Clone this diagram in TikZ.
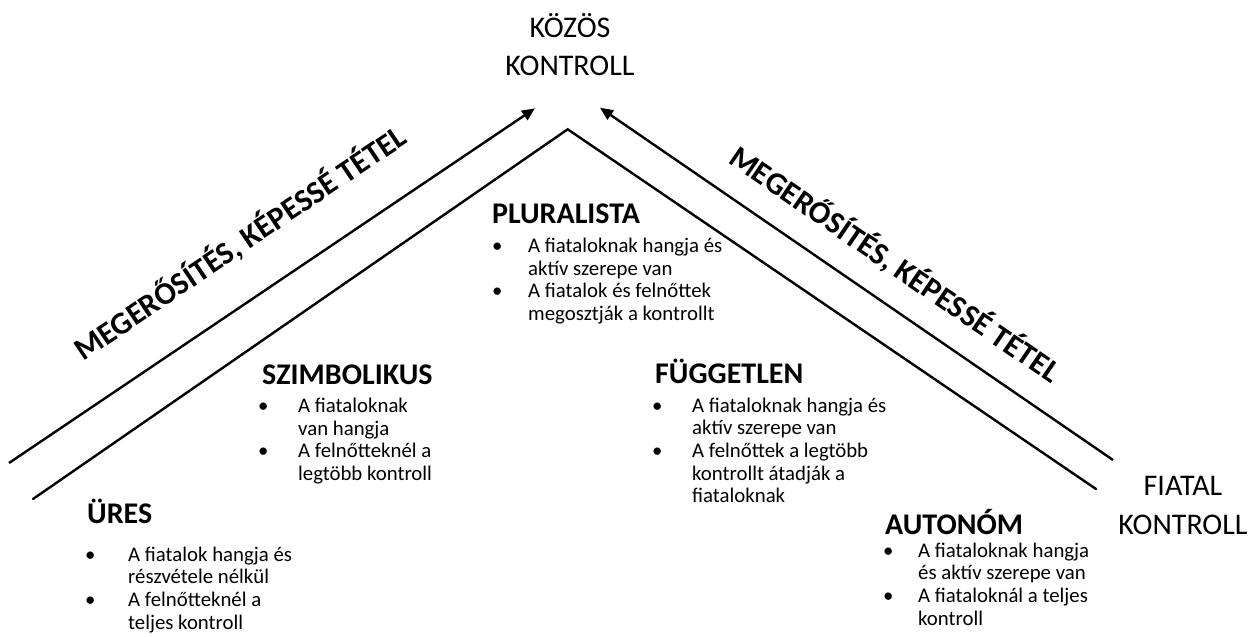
\documentclass[tikz,border=0pt]{standalone}
\usepackage{fontspec}
\setmainfont{Carlito}
\usetikzlibrary{arrows.meta}

% indent of the text after a bullet
\newlength\bw
\newcommand\bl{\makebox[\bw][l]{\makebox[0pt]{\textbullet}}}
\newcommand\nb{\hspace*{\bw}}

\tikzset{
  ln/.style={line width=2.4pt, line cap=round},
  arr/.style={line width=2.4pt, -{Triangle[length=13pt,width=11pt]}},
  hdr/.style={anchor=base west, inner sep=0pt, font=\fontsize{30}{36}\selectfont\bfseries},
  body/.style={anchor=base west, inner sep=0pt, font=\fontsize{20.8}{22.7}\selectfont},
  big/.style={anchor=base, inner sep=0pt, font=\fontsize{30}{39}\selectfont},
  diag/.style={anchor=base, inner sep=0pt, font=\fontsize{31.5}{36}\selectfont\bfseries},
}

\begin{document}
\begin{tikzpicture}[x=1pt, y=-1pt]
\useasboundingbox (0,0) rectangle (1258,637);

% end points of the two chevrons
\coordinate (lo) at (9,463);
\coordinate (lt) at (535,108.3);
\coordinate (ro) at (1113,460);
\coordinate (rt) at (600,107.7);
\coordinate (li) at (33,499);
\coordinate (apex) at (567.7,129.3);
\coordinate (ri) at (1096,489);

\draw[arr] (lo) -- (lt);
\draw[arr] (ro) -- (rt);
\draw[ln, line join=miter] (li) -- (apex) -- (ri);

% corner labels
\node[big] (kozos) at (570,37) {\begin{tabular}[t]{@{}c@{}}KÖZÖS\\KONTROLL\end{tabular}};
\node[big] (fiatal) at (1183,495) {\begin{tabular}[t]{@{}c@{}}FIATAL\\KONTROLL\end{tabular}};

% labels along the arrows
\node[diag, rotate=34.0] (megl) at (246,252) {MEGERŐSÍTÉS, KÉPESSÉ TÉTEL};
\node[diag, rotate=-34.4] (megr) at (889,273) {MEGERŐSÍTÉS, KÉPESSÉ TÉTEL};

% PLURALISTA
\node[hdr] (plh) at (492,223) {PLURALISTA};
\node[body] (plb) at (497,252.5) {\setlength\bw{31pt}\begin{tabular}[t]{@{}l@{}}
\bl A fiataloknak hangja és\\
\nb aktív szerepe van\\
\bl A fiatalok és felnőttek\\
\nb megosztják a kontrollt\end{tabular}};

% SZIMBOLIKUS
\node[hdr] (szh) at (262,384) {SZIMBOLIKUS};
\node[body] (szb) at (263,412.5) {\setlength\bw{35pt}\begin{tabular}[t]{@{}l@{}}
\bl A fiataloknak\\
\nb van hangja\\
\bl A felnőtteknél a\\
\nb legtöbb kontroll\end{tabular}};

% FÜGGETLEN
\node[hdr] (fuh) at (655,383) {FÜGGETLEN};
\node[body] (fub) at (657,412) {\setlength\bw{35pt}\begin{tabular}[t]{@{}l@{}}
\bl A fiataloknak hangja és\\
\nb aktív szerepe van\\
\bl A felnőttek a legtöbb\\
\nb kontrollt átadják a\\
\nb fiataloknak\end{tabular}};

% ÜRES
\node[hdr] (urh) at (87,523) {ÜRES};
\node[body] (urb) at (90,561) {\setlength\bw{38pt}\begin{tabular}[t]{@{}l@{}}
\bl A fiatalok hangja és\\
\nb részvétele nélkül\\
\bl A felnőtteknél a\\
\nb teljes kontroll\end{tabular}};

% AUTONÓM
\node[hdr] (auh) at (885,534) {AUTONÓM};
\node[body] (aub) at (888,557) {\setlength\bw{30pt}\begin{tabular}[t]{@{}l@{}}
\bl A fiataloknak hangja\\
\nb és aktív szerepe van\\
\bl A fiataloknál a teljes\\
\nb kontroll\end{tabular}};
\end{tikzpicture}
\end{document}
